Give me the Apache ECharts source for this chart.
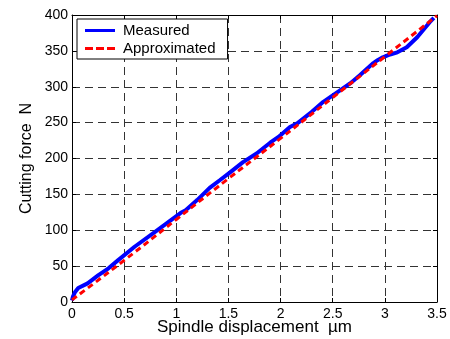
<!DOCTYPE html>
<html><head><meta charset="utf-8">
<script src="https://cdn.jsdelivr.net/npm/echarts@6/dist/echarts.min.js"></script>
<style>html,body{margin:0;padding:0;background:#fff}#c{width:450px;height:339px}</style>
</head><body><div id="c"></div>
<script>
var measuredX = [0, 0.01, 0.03, 0.06, 0.15, 0.25, 0.35, 0.44, 0.6, 0.8, 0.92, 1.04, 1.09, 1.2, 1.32, 1.42, 1.51, 1.64, 1.77, 1.9, 1.98, 2.09, 2.16, 2.3, 2.41, 2.57, 2.67, 2.76, 2.89, 2.93, 2.98, 3.05, 3.12, 3.21, 3.31, 3.43, 3.47];
var measuredY = [2, 8, 14, 19.5, 26, 37, 47, 58, 77, 98, 111, 124, 128, 142, 159, 170, 180, 195, 207, 222, 230, 244, 249, 265, 279, 295, 305, 316, 333, 337, 341, 345, 348, 355, 369, 390, 396];
var approxX = [0, 0.5, 1, 1.5, 2, 2.5, 3, 3.5];
var approxY = [3, 58, 115, 172, 228, 285, 342, 399];
var seriesNames = ['Measured', 'Approximated'];

function pairs(xs, ys) { return xs.map(function (x, i) { return [x, ys[i]]; }); }
var font = 'Liberation Sans, Arial, sans-serif';
var chart = echarts.init(document.getElementById('c'));
var gridLine = { show: true, lineStyle: { color: '#333', type: [8, 5], width: 1 } };
var tick = { show: true, inside: true, length: 4, lineStyle: { color: '#000' } };
var axLine = { show: true, onZero: false, lineStyle: { color: '#000', width: 1 } };
chart.setOption({
  animation: false,
  grid: { left: 72, right: 13, top: 15, bottom: 37, containLabel: false, outerBoundsMode: 'none' },
  legend: {
    left: 77, top: 19, orient: 'vertical', itemWidth: 30, itemHeight: 3, itemGap: 3,
    backgroundColor: '#fff', borderColor: '#000', borderWidth: 1, borderRadius: 0,
    padding: [4, 12, 3, 8],
    textStyle: { fontFamily: font, fontSize: 15, color: '#000', lineHeight: 15, padding: [0, 0, 0, 3] },
    data: [
      { name: seriesNames[0], icon: 'rect' },
      { name: seriesNames[1], icon: 'path://M0,0h8v3h-8z M11,0h8v3h-8z M22,0h8v3h-8z' }
    ]
  },
  xAxis: [{
    type: 'value', min: 0, max: 3.5, interval: 0.5,
    name: 'Spindle displacement  \u00b5m', nameLocation: 'middle', nameGap: 17, nameMoveOverlap: false,
    nameTextStyle: { fontFamily: font, fontSize: 17, color: '#000', verticalAlign: 'top', lineHeight: 17 },
    axisLine: axLine, axisTick: tick,
    axisLabel: { fontFamily: font, fontSize: 14, color: '#000', margin: 5, formatter: function (v) { return String(v); } },
    splitLine: gridLine
  }, {
    type: 'value', position: 'top', min: 0, max: 3.5, interval: 0.5,
    axisLine: axLine, axisTick: tick, axisLabel: { show: false }, splitLine: { show: false }
  }],
  yAxis: [{
    type: 'value', min: 0, max: 400, interval: 50,
    name: 'Cutting force  N', nameLocation: 'middle', nameGap: 45, nameMoveOverlap: false,
    nameTextStyle: { fontFamily: font, fontSize: 16, color: '#000', verticalAlign: 'middle' },
    axisLine: axLine, axisTick: tick,
    axisLabel: { fontFamily: font, fontSize: 14, color: '#000', margin: 4 },
    splitLine: gridLine
  }, {
    type: 'value', position: 'right', min: 0, max: 400, interval: 50,
    axisLine: axLine, axisTick: tick, axisLabel: { show: false }, splitLine: { show: false }
  }],
  series: [{
    name: seriesNames[0], type: 'line', data: pairs(measuredX, measuredY),
    showSymbol: false, symbol: 'none', smooth: false,
    lineStyle: { color: '#0000ff', width: 4 }, itemStyle: { color: '#0000ff' }
  }, {
    name: seriesNames[1], type: 'line', data: pairs(approxX, approxY),
    showSymbol: false, symbol: 'none', smooth: true,
    lineStyle: { color: '#ff0000', width: 3, type: [6, 4] }, itemStyle: { color: '#ff0000' }
  }]
});
</script></body></html>
